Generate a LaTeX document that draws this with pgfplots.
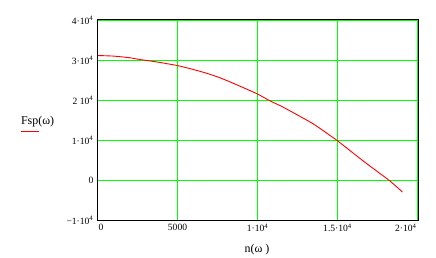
\documentclass[border=0pt]{standalone}
\usepackage{fontspec}
\setmainfont{Liberation Serif}
\usepackage{pgfplots}
\pgfplotsset{compat=1.18}
\definecolor{mgreen}{RGB}{0,255,0}
\begin{document}
\fontsize{9.6}{11}\selectfont
\begin{tikzpicture}
\useasboundingbox (0,0) rectangle (436bp,258bp);
\begin{axis}[
  at={(97.5bp,37.5bp)}, anchor=south west,
  scale only axis, width=321bp, height=201bp,
  xmin=0, xmax=20062.5, ymin=-10000, ymax=40250,
  xtick={0,5000,10000,15000,20000},
  xticklabels={\makebox[0pt][l]{\kern1bp 0},5000,1·10\textsuperscript{4},1.5·10\textsuperscript{4},\makebox[0pt][r]{2·10\textsuperscript{4}\kern1bp}},
  ytick={-10000,0,10000,20000,30000,40000},
  yticklabels={−1·10\textsuperscript{4},0,1·10\textsuperscript{4},2\ 10\textsuperscript{4},3·10\textsuperscript{4},4·10\textsuperscript{4}},
  major tick length=0pt,
  tick style={draw=none},
  grid=major, grid style={mgreen, line width=1bp},
  axis line style={black, line width=1bp},
  scaled ticks=false,
  xticklabel style={inner sep=0pt, anchor=north, yshift=-3bp},
  yticklabel style={inner sep=0pt, anchor=east, xshift=-4bp},
  clip=false,
]
\addplot[red, line width=0.9bp, smooth, tension=0.3] coordinates {
(0,31250) (1000,31100) (2000,30700) (2640,30250) (3690,29650) (4975,28750)
(5900,27850) (6810,26825) (7644,25700) (8475,24325) (9975,21675) (10770,19925)
(11394,18750) (11910,17675) (13475,14175) (15000,9925) (16600,4900) (18270,-100) (19060,-2900)
};
\node[anchor=base west, inner sep=0pt, font=\fontsize{12}{14}\selectfont] at (axis description cs:-0.2389,0.478) {Fsp(ω)};
\fill[red] (axis description cs:-0.2379,0.4405) rectangle (axis description cs:-0.1818,0.4455);
\node[anchor=center, inner sep=0pt, font=\fontsize{12}{14}\selectfont] at (axis description cs:0.497,-0.147) {n(ω )};
\draw[black, line width=1bp] (rel axis cs:0,0) rectangle (rel axis cs:1,1);
\end{axis}
\end{tikzpicture}
\end{document}
